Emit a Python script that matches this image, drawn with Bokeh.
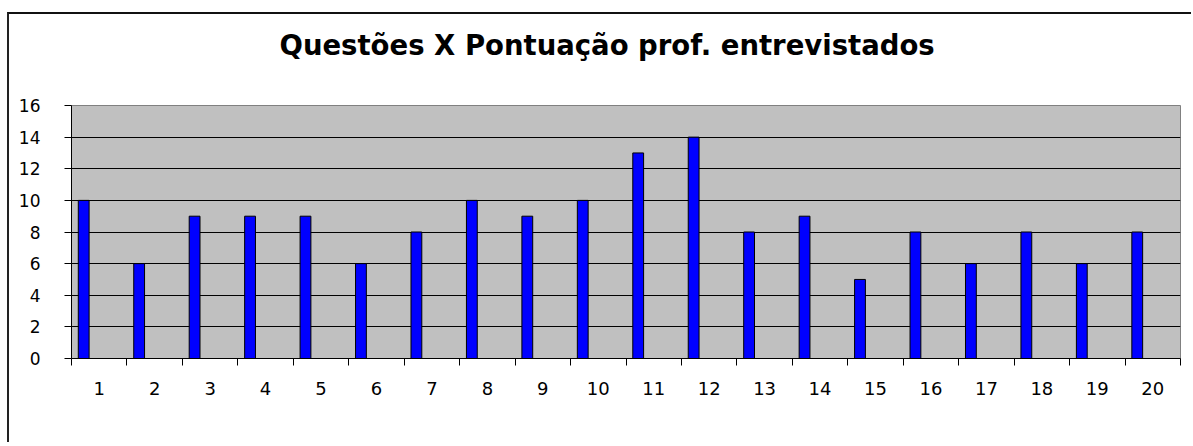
from bokeh.plotting import figure
from bokeh.models import FixedTicker, ColumnDataSource, Range1d, Title
from bokeh.embed import file_html
from bokeh.resources import INLINE

questoes = [str(i) for i in range(1, 21)]
pontuacao = [10, 6, 9, 9, 9, 6, 8, 10, 9, 10, 13, 14, 8, 9, 5, 8, 6, 8, 6, 8]
y_ticks = [0, 2, 4, 6, 8, 10, 12, 14, 16]
title_text = "Questões X Pontuação prof. entrevistados"

n = len(questoes)
bar_offset = 0.22
bar_w = 0.195
xs = [k + bar_offset for k in range(n)]
src = ColumnDataSource(dict(x=xs, top=pontuacao))

p = figure(width=1184, height=430, output_backend="svg", toolbar_location=None,
           x_range=Range1d(0, n), y_range=Range1d(0, 16),
           min_border_left=62, min_border_right=13, min_border_top=91, min_border_bottom=86)
p.styles = {"border-left": "2px solid #222", "border-top": "2px solid #111",
            "border-right": "none", "margin-top": "12px", "margin-left": "7px"}
p.background_fill_color = "#C0C0C0"
p.border_fill_color = "white"
p.outline_line_color = "#808080"
p.outline_line_width = 1

p.title_location = None
spacer = Title(text=" ", text_font_size="10px", standoff=16)
p.add_layout(spacer, "above")
main_title = Title(text=title_text, text_font="DejaVu Sans", text_font_style="bold",
                   text_font_size="27.5px", text_color="black", align="left",
                   vertical_align="top", offset=208, standoff=28)
p.add_layout(main_title, "above")

p.vbar(x="x", top="top", bottom=0, width=bar_w, source=src,
       fill_color="#0000FF", line_color="black", line_width=1)

# y axis
p.yaxis.ticker = FixedTicker(ticks=y_ticks, minor_ticks=[])
p.yaxis.major_tick_out = 7
p.yaxis.major_tick_in = 0
p.yaxis.minor_tick_out = 0
p.yaxis.minor_tick_in = 0
p.yaxis.axis_line_color = "black"
p.yaxis.major_tick_line_color = "black"
p.yaxis.major_label_text_font = "DejaVu Sans"
p.yaxis.major_label_text_font_size = "17px"
p.yaxis.major_label_text_color = "black"
p.yaxis.major_label_standoff = 24

# x axis: labels at centres, tick marks at category boundaries
centers = [k + 0.5 for k in range(n)]
p.xaxis.ticker = FixedTicker(ticks=centers, minor_ticks=list(range(n + 1)))
p.xaxis.major_label_overrides = {c: q for c, q in zip(centers, questoes)}
p.xaxis.major_tick_out = 0
p.xaxis.major_tick_in = 0
p.xaxis.minor_tick_out = 7
p.xaxis.minor_tick_in = 0
p.xaxis.minor_tick_line_color = "black"
p.xaxis.axis_line_color = "black"
p.xaxis.major_label_text_font = "DejaVu Sans"
p.xaxis.major_label_text_font_size = "18px"
p.xaxis.major_label_text_color = "black"
p.xaxis.major_label_standoff = 16

p.xgrid.visible = False
p.ygrid.ticker = FixedTicker(ticks=y_ticks)
p.ygrid.grid_line_color = "black"
p.ygrid.grid_line_alpha = 1.0
p.ygrid.grid_line_width = 1

open("out.html", "w").write(file_html(p, INLINE))
